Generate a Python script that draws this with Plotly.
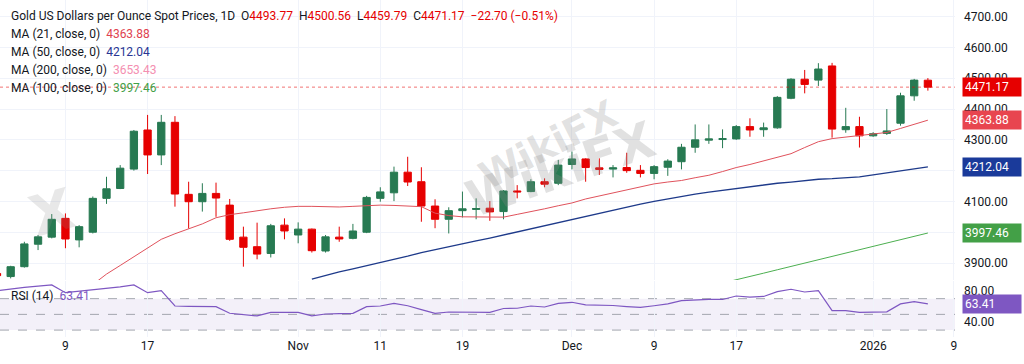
import plotly.graph_objects as go

# ---- data ----
# bar index 0 = Oct 9 2025 ; trading days only
bar_index = list(range(-5, 64))
bar_dates = ["Oct 2", "Oct 3", "Oct 6", "Oct 7", "Oct 8", "Oct 9", "Oct 10", "Oct 13", "Oct 14", "Oct 15",
             "Oct 16", "Oct 17", "Oct 20", "Oct 21", "Oct 22", "Oct 23", "Oct 24", "Oct 27", "Oct 28", "Oct 29",
             "Oct 30", "Oct 31", "Nov 3", "Nov 4", "Nov 5", "Nov 6", "Nov 7", "Nov 10", "Nov 11", "Nov 12",
             "Nov 13", "Nov 14", "Nov 17", "Nov 18", "Nov 19", "Nov 20", "Nov 21", "Nov 24", "Nov 25", "Nov 26",
             "Nov 27", "Nov 28", "Dec 1", "Dec 2", "Dec 3", "Dec 4", "Dec 5", "Dec 8", "Dec 9", "Dec 10",
             "Dec 11", "Dec 12", "Dec 15", "Dec 16", "Dec 17", "Dec 18", "Dec 19", "Dec 22", "Dec 23", "Dec 24",
             "Dec 26", "Dec 29", "Dec 30", "Dec 31", "Jan 2", "Jan 5", "Jan 6", "Jan 7", "Jan 8"]

opens = [3866, 3856, 3888, 3961, 3984, 4045, 3975, 4000, 4110, 4142, 4205, 4332, 4251, 4357, 4123, 4099, 4126,
         4088, 3984, 3953, 3931, 4023, 3991, 4010, 3939, 3984, 3980, 4000, 4110, 4128, 4195, 4164, 4085, 4042,
         4070, 4074, 4078, 4067, 4134, 4132, 4164, 4159, 4220, 4238, 4209, 4205, 4210, 4201, 4191, 4211, 4229,
         4276, 4299, 4301, 4303, 4343, 4333, 4339, 4435, 4497, 4494, 4540, 4333, 4343, 4313, 4321, 4354, 4443,
         4493.77]
highs = [3870, 3891, 3969, 3991, 4059, 4061, 4023, 4116, 4180, 4218, 4332, 4381, 4381, 4377, 4164, 4159, 4161,
         4108, 4018, 4031, 4027, 4045, 4032, 4012, 3991, 4018, 4027, 4118, 4146, 4213, 4245, 4211, 4107, 4081,
         4132, 4110, 4101, 4137, 4153, 4172, 4175, 4235, 4262, 4240, 4240, 4218, 4258, 4218, 4218, 4237, 4287,
         4350, 4350, 4334, 4348, 4370, 4356, 4442, 4500, 4527, 4549, 4550, 4404, 4375, 4325, 4400, 4453, 4498,
         4500.56]
lows = [3855, 3850, 3885, 3942, 3980, 3948, 3951, 3996, 4092, 4140, 4200, 4189, 4218, 4083, 4012, 4067, 4050,
        3972, 3888, 3912, 3918, 3977, 3964, 3934, 3934, 3969, 3977, 3997, 4099, 4101, 4150, 4034, 4013, 3996,
        4048, 4042, 4037, 4042, 4110, 4130, 4146, 4153, 4204, 4164, 4186, 4178, 4193, 4178, 4172, 4183, 4204,
        4258, 4287, 4273, 4300, 4310, 4310, 4336, 4432, 4451, 4475, 4307, 4323, 4275, 4310, 4316, 4346, 4427,
        4459.79]
closes = [3859, 3888, 3962, 3985, 4042, 3978, 4018, 4110, 4141, 4208, 4328, 4251, 4357, 4124, 4099, 4126, 4111,
          3977, 3951, 3929, 4021, 4004, 4010, 3940, 3985, 3978, 4004, 4113, 4131, 4195, 4163, 4085, 4042, 4070,
          4076, 4077, 4066, 4134, 4131, 4164, 4156, 4218, 4238, 4210, 4204, 4209, 4200, 4191, 4213, 4231, 4276,
          4300, 4303, 4304, 4343, 4332, 4339, 4438, 4497, 4480, 4530, 4335, 4343, 4313, 4320, 4329, 4443, 4494,
          4471.17]

N = None
ma21 = [N, N, N, N, N, N, N, 3830, 3864, 3892, 3921, 3949, 3977, 3995, 4011, 4027, 4047, 4057, 4063, 4070,
        4076, 4081, 4084, 4084, 4083, 4082, 4084, 4086, 4088, 4087, 4086, 4083, 4062, 4054, 4050, 4050, 4050,
        4049, 4058, 4066, 4076, 4086, 4095, 4108, 4118, 4128, 4139, 4149, 4157, 4163, 4168, 4177, 4185, 4197,
        4210, 4220, 4232, 4243, 4255, 4275, 4294, 4304, 4309, 4313, 4318, 4324, 4337, 4350, 4363.88]
ma50 = [N] * 23 + [3848, 3860, 3871, 3881, 3891, 3900, 3912, 3922, 3934, 3944, 3954, 3963, 3972, 3981, 3991,
                   4001, 4012, 4023, 4033, 4042, 4052, 4062, 4072, 4082, 4091, 4100, 4108, 4117, 4124, 4130,
                   4136, 4141, 4146, 4152, 4159, 4163, 4168, 4172, 4174, 4176, 4180, 4186, 4192, 4199, 4206,
                   4212.04]
ma100 = [N] * 53 + [3835, 3845, 3856, 3867, 3878, 3889, 3900, 3911, 3922, 3933, 3944, 3955, 3966, 3976, 3987,
                    3997.46]
rsi = [80, 82.5, 84.5, 86, 87.5, 77.6, 79.5, 80.5, 82.5, 85, 87.5, 77.6, 80.2, 60.7, 60.2, 59.8, 59.8, 51.4,
       49.5, 48, 52.6, 52.5, 52.5, 48, 50.5, 51, 51.4, 59.8, 60.7, 64.1, 61, 56, 51.4, 53, 52.8, 52.6, 52.5,
       57.5, 57.8, 60.7, 59.4, 64, 65.4, 62, 61.7, 61.3, 60, 59, 61, 63.3, 67.5, 68.5, 69, 69, 73.4, 72, 72.8,
       79, 82, 78.5, 80.2, 54.7, 54.7, 52.6, 52.6, 53.2, 63.3, 66.2, 63.41]

x_tick_pos = [0, 6, 17, 23, 29, 37, 43, 49, 59, 64.9]
x_tick_text = ["9", "17", "Nov", "11", "19", "Dec", "9", "17", "2026", "9"]
price_ticks = [3900, 4000, 4100, 4200, 4300, 4400, 4500, 4600, 4700]
# 4000 and 4200 are fully hidden behind the MA value boxes in the reference
price_tick_text = ["3900.00", "", "4100.00", "", "4300.00", "4400.00", "4500.00", "4600.00", "4700.00"]
rsi_ticks = [40, 80]
rsi_tick_text = ["40.00", "80.00"]

last_close = 4471.17
ma_labels = [("MA (21, close, 0)", "4363.88", "#e0424f"),
             ("MA (50, close, 0)", "4212.04", "#283593"),
             ("MA (200, close, 0)", "3653.43", "#f48fb1"),
             ("MA (100, close, 0)", "3997.46", "#43a047")]

# ---- styling ----
GREEN = "#277a52"
RED = "#e60000"
TXT = "#131722"
FONT = "Roboto"
W, H = 1024, 364
ML, MR, MT, MB = 0, 69, 0, 27
PW = W - ML - MR
PH = H - MT - MB


def px_x(p):
    return (p - ML) / PW


def px_y(p):
    return 1 - (p - MT) / PH


fig = go.Figure()
fig.add_trace(go.Candlestick(
    x=bar_index, open=opens, high=highs, low=lows, close=closes,
    increasing=dict(line=dict(color=GREEN, width=1), fillcolor=GREEN),
    decreasing=dict(line=dict(color=RED, width=1), fillcolor=RED),
    whiskerwidth=0, showlegend=False, hoverinfo="skip", xaxis="x", yaxis="y"))
fig.add_trace(go.Scatter(x=bar_index, y=ma100, mode="lines", line=dict(color="#4caf50", width=1),
                         showlegend=False, hoverinfo="skip"))
fig.add_trace(go.Scatter(x=bar_index, y=ma50, mode="lines", line=dict(color="#1e3a8a", width=1.3),
                         showlegend=False, hoverinfo="skip"))
fig.add_trace(go.Scatter(x=bar_index, y=ma21, mode="lines", line=dict(color="#e0525c", width=1),
                         showlegend=False, hoverinfo="skip"))
fig.add_trace(go.Scatter(x=bar_index, y=rsi, mode="lines", line=dict(color="#7e57c2", width=1.2),
                         showlegend=False, hoverinfo="skip", xaxis="x", yaxis="y2"))

shapes = [
    dict(type="rect", xref="paper", x0=0, x1=1, yref="y2", y0=30, y1=70,
         fillcolor="rgba(126,87,194,0.09)", line=dict(width=0), layer="below"),
]
for lvl in (70, 50, 30):
    shapes.append(dict(type="line", xref="paper", x0=0, x1=1, yref="y2", y0=lvl, y1=lvl,
                       line=dict(color="#a3a6af", width=1, dash="dash"), layer="below"))
shapes.append(dict(type="line", xref="paper", x0=0, x1=1, yref="y", y0=last_close, y1=last_close,
                   line=dict(color="rgba(230,0,0,0.55)", width=1, dash="dot"), layer="above"))

ann = []
# watermarks (drawn first, beneath the texts)
WM = "rgba(140,140,140,0.26)"
ann.append(dict(xref="paper", yref="paper", x=px_x(548), y=px_y(145), text="<b>WikiFX</b>",
                showarrow=False, textangle=-27, font=dict(family="DejaVu Sans", size=38, color=WM)))
ann.append(dict(xref="paper", yref="paper", x=px_x(560), y=px_y(232), text="<b>WikiFX</b>",
                showarrow=False, textangle=-19, font=dict(family="DejaVu Sans", size=50, color=WM)))
ann.append(dict(xref="paper", yref="paper", x=px_x(20), y=px_y(212), text="<b>X</b>",
                showarrow=False, textangle=-15, font=dict(family="DejaVu Sans", size=56,
                                                            color="rgba(140,140,140,0.2)")))

title = ("Gold US Dollars per Ounce Spot Prices, 1D  "
         f"O<span style='color:{RED}'>4493.77</span>  "
         f"H<span style='color:{RED}'>4500.56</span>  "
         f"L<span style='color:{RED}'>4459.79</span>  "
         f"C<span style='color:{RED}'>4471.17</span>  "
         f"<span style='color:{RED}'>−22.70 (−0.51%)</span>")
ann.append(dict(xref="paper", yref="paper", x=px_x(9), y=px_y(16), xanchor="left", yanchor="middle",
                text=title, showarrow=False, font=dict(family=FONT, size=12, color=TXT)))
for k, (name, val, col) in enumerate(ma_labels):
    ann.append(dict(xref="paper", yref="paper", x=px_x(9), y=px_y(34 + 18 * k), xanchor="left",
                    yanchor="middle", showarrow=False,
                    text=f"{name}  <span style='color:{col}'>{val}</span>",
                    font=dict(family=FONT, size=12, color=TXT)))
ann.append(dict(xref="paper", yref="paper", x=px_x(9), y=px_y(296), xanchor="left", yanchor="middle",
                showarrow=False, text="RSI (14)  <span style='color:#7e57c2'>63.41</span>",
                font=dict(family=FONT, size=12, color=TXT)))

# price-scale labels
box_labels = [("y", last_close, "4471.17", RED),
              ("y", 4363.88, "4363.88", "#e8454f"),
              ("y", 4212.04, "4212.04", "#1a3a9a"),
              ("y", 3997.46, "3997.46", "#43a047"),
              ("y2", 63.41, "63.41", "#7e57c2")]
for yr, yv, txt, col in box_labels:
    ann.append(dict(xref="paper", yref=yr, x=px_x(962), y=yv, xanchor="left", yanchor="middle",
                    text=txt, showarrow=False, bgcolor=col, borderpad=2, width=54, height=14,
                    align="left", font=dict(family=FONT, size=12, color="white")))

fig.update_layout(
    width=W, height=H, margin=dict(l=ML, r=MR, t=MT, b=MB),
    paper_bgcolor="white", plot_bgcolor="white", showlegend=False,
    boxgap=0.24,
    font=dict(family=FONT, size=12, color=TXT),
    xaxis=dict(domain=[0, 1], anchor="y2", range=[-4.78, 64.98], tickmode="array",
               tickvals=x_tick_pos, ticktext=x_tick_text, showgrid=True, gridcolor="#f0f3fa",
               zeroline=False, showline=False, ticks="", rangeslider=dict(visible=False),
               tickfont=dict(family=FONT, size=12, color=TXT)),
    yaxis=dict(domain=[57 / PH, 1], anchor="x", side="right", range=[3844.8, 4754.2],
               tickmode="array", tickvals=price_ticks, ticktext=price_tick_text, showgrid=True,
               gridcolor="#f0f3fa", zeroline=False, showline=False, ticks="", ticklabelstandoff=8,
               tickfont=dict(family=FONT, size=12, color=TXT)),
    yaxis2=dict(domain=[0, 56 / PH], anchor="x", side="right", range=[21.2, 92.5],
                tickmode="array", tickvals=rsi_ticks, ticktext=rsi_tick_text, showgrid=False,
                zeroline=False, showline=False, ticks="", ticklabelstandoff=8,
                tickfont=dict(family=FONT, size=12, color=TXT)),
    shapes=shapes, annotations=ann,
)

fig.write_html("out.html")
